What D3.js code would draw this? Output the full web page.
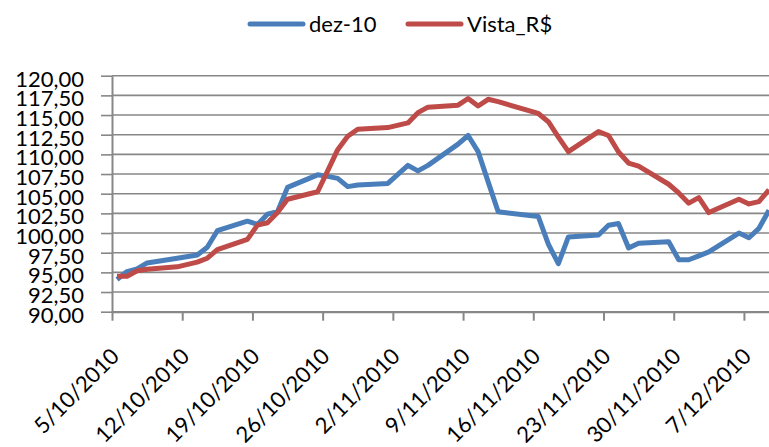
<!DOCTYPE html>
<html>
<head>
<meta charset="utf-8">
<script src="https://cdn.jsdelivr.net/npm/d3@7"></script>
<style>
  body { margin: 0; background: #fff; }
  svg { display: block; font-family: Lato, "Open Sans", sans-serif; }
</style>
</head>
<body>
<div id="chart"></div>
<script>
// trading days (d/m/yyyy) and the two series
const dates = [
  "5/10/2010", "6/10/2010", "7/10/2010", "8/10/2010", "11/10/2010", "13/10/2010", "14/10/2010",
  "15/10/2010", "18/10/2010", "19/10/2010", "20/10/2010", "21/10/2010", "22/10/2010", "25/10/2010",
  "26/10/2010", "27/10/2010", "28/10/2010", "29/10/2010", "1/11/2010", "3/11/2010", "4/11/2010",
  "5/11/2010", "8/11/2010", "9/11/2010", "10/11/2010", "11/11/2010", "12/11/2010", "16/11/2010",
  "17/11/2010", "18/11/2010", "19/11/2010", "22/11/2010", "23/11/2010", "24/11/2010", "25/11/2010",
  "26/11/2010", "29/11/2010", "30/11/2010", "1/12/2010", "2/12/2010", "3/12/2010", "6/12/2010",
  "7/12/2010", "8/12/2010", "9/12/2010"
];
const dez10 = [
  94.1, 95.1, 95.45, 96.2, 96.8, 97.2, 98.2,
  100.3, 101.5, 101.1, 102.4, 102.7, 105.8, 107.4,
  107.2, 106.95, 105.9, 106.1, 106.3, 108.6, 107.9,
  108.6, 111.3, 112.4, 110.35, 106.5, 102.7, 102.1,
  98.6, 96.1, 99.5, 99.75, 101.0, 101.2, 98.1,
  98.7, 98.9, 96.6, 96.6, 97.1, 97.6, 100.0,
  99.4, 100.6, 102.9
];
const vista = [
  94.5, 94.5, 95.2, 95.4, 95.7, 96.3, 96.8,
  97.9, 99.2, 101.0, 101.3, 102.6, 104.3, 105.25,
  107.9, 110.6, 112.3, 113.2, 113.4, 114.0, 115.3,
  116.0, 116.25, 117.1, 116.15, 117.0, 116.7, 115.2,
  114.15, 112.2, 110.35, 112.9, 112.4, 110.3, 108.9,
  108.5, 106.2, 105.1, 103.8, 104.5, 102.6, 104.3,
  103.7, 104.0, 105.5
];
const seriesNames = ["dez-10", "Vista_R$"];
const seriesColors = ["#4a7ebb", "#be4b48"];
const xTickLabels = ["5/10/2010", "12/10/2010", "19/10/2010", "26/10/2010", "2/11/2010",
  "9/11/2010", "16/11/2010", "23/11/2010", "30/11/2010", "7/12/2010"];
const yTicks = [90, 92.5, 95, 97.5, 100, 102.5, 105, 107.5, 110, 112.5, 115, 117.5, 120];

const W = 769, H = 447;
const parse = d3.timeParse("%d/%m/%Y");
const fmtDate = d3.timeFormat("%-d/%-m/%Y");
const ptBR = d3.formatLocale({ decimal: ",", thousands: ".", grouping: [3], currency: ["R$", ""] });
const fmtVal = ptBR.format(".2f");

const svg = d3.select("#chart").append("svg")
  .attr("width", W)
  .attr("height", H);

// x is a date axis, points sit in the middle of their day
const x = d3.scaleTime()
  .domain([parse("5/10/2010"), d3.timeHour.offset(parse("9/12/2010"), 12)])
  .range([112, 769]);
const y = d3.scaleLinear()
  .domain([90, 120])
  .range([311.7, 75.7]);

const grid = "#878787";

// gridlines
svg.append("g")
  .selectAll("line")
  .data(yTicks)
  .join("line")
  .attr("x1", 112)
  .attr("x2", W)
  .attr("y1", d => y(d))
  .attr("y2", d => y(d))
  .attr("stroke", grid)
  .attr("stroke-width", 1.6);

// y axis
const yAxis = svg.append("g")
  .attr("transform", "translate(112,0)")
  .call(d3.axisLeft(y).tickValues(yTicks).tickSize(11).tickSizeOuter(0).tickFormat(fmtVal));
yAxis.select(".domain").attr("stroke", grid).attr("stroke-width", 2);
yAxis.selectAll(".tick line").attr("stroke", grid).attr("stroke-width", 1.6);
yAxis.selectAll(".tick text")
  .attr("x", -28)
  .attr("dy", 10.5)
  .attr("fill", "#000")
  .style("font-size", "22px")
  .style("font-family", "Lato, sans-serif");

// x axis
const xAxis = svg.append("g")
  .attr("transform", "translate(0," + y(90) + ")")
  .call(d3.axisBottom(x).tickValues(xTickLabels.map(parse)).tickSize(9).tickSizeOuter(0).tickFormat(fmtDate));
xAxis.select(".domain").attr("stroke", grid).attr("stroke-width", 2);
xAxis.selectAll(".tick line").attr("stroke", grid).attr("stroke-width", 2);
xAxis.selectAll(".tick text")
  .attr("x", 0)
  .attr("y", 0)
  .attr("dy", 0)
  .attr("text-anchor", "end")
  .attr("transform", "translate(8,46) rotate(-45)")
  .attr("fill", "#000")
  .style("font-size", "22px")
  .style("font-family", "Lato, sans-serif");

// lines
const pts = dates.map(parse).map(d => d3.timeHour.offset(d, 12));
const line = d3.line()
  .x(d => x(d.date))
  .y(d => y(d.value));

[dez10, vista].forEach((vals, i) => {
  svg.append("path")
    .datum(vals.map((v, j) => ({ date: pts[j], value: v })))
    .attr("fill", "none")
    .attr("stroke", seriesColors[i])
    .attr("stroke-width", 5)
    .attr("stroke-linejoin", "round")
    .attr("d", line);
});

// legend
const legendX = [250, 408];
const legend = svg.append("g");
seriesNames.forEach((name, i) => {
  legend.append("line")
    .attr("x1", legendX[i])
    .attr("x2", legendX[i] + 53)
    .attr("y1", 24)
    .attr("y2", 24)
    .attr("stroke", seriesColors[i])
    .attr("stroke-width", 5)
    .attr("stroke-linecap", "round");
  legend.append("text")
    .attr("x", legendX[i] + 59)
    .attr("y", 32)
    .style("font-size", "22px")
    .text(name);
});
</script>
</body>
</html>
